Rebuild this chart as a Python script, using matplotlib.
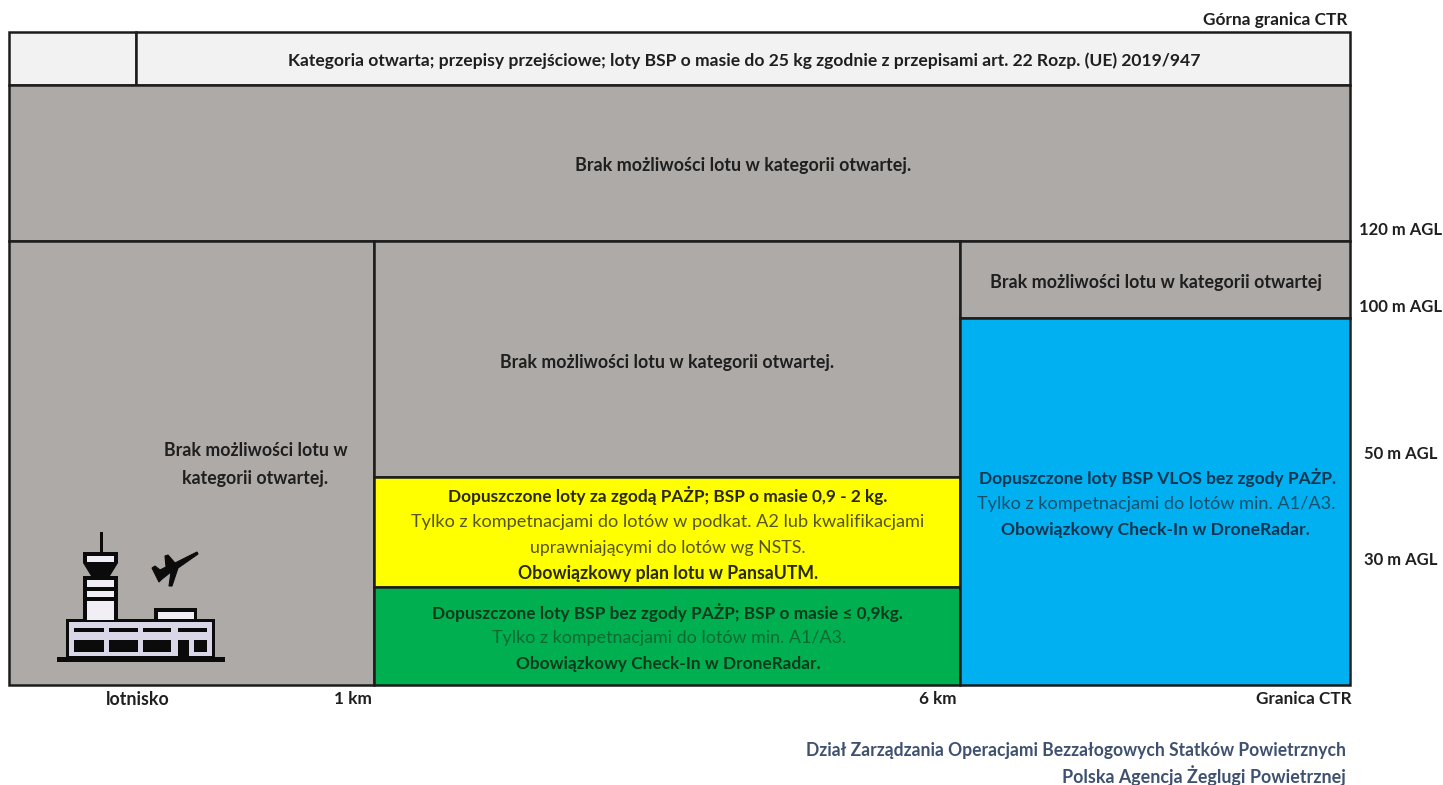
import matplotlib
matplotlib.use("Agg")
import matplotlib.pyplot as plt
from matplotlib.patches import Rectangle, Polygon

FONT = ["Lato", "Open Sans", "DejaVu Sans"]
plt.rcParams["font.family"] = FONT

# Zone boundaries (image scale)
zone_names = ["tower_band", "open_band", "upper", "left", "mid_upper", "yellow", "green", "right_top", "blue"]
zone_x0 = [9, 136, 9, 9, 374, 374, 374, 960, 960]
zone_x1 = [136, 1350, 1350, 374, 960, 960, 960, 1350, 1350]
zone_y0 = [32, 32, 85, 241, 241, 477, 587, 241, 318]
zone_y1 = [85, 85, 241, 685, 477, 587, 685, 318, 685]
zone_colors = ["#f2f2f2", "#f2f2f2", "#aeaaa7", "#aeaaa7", "#aeaaa7", "#ffff00", "#00b050", "#aeaaa7", "#00b0f0"]

grey_labels = ["Brak możliwości lotu w kategorii otwartej.",
               "Brak możliwości lotu w\nkategorii otwartej.",
               "Brak możliwości lotu w kategorii otwartej.",
               "Brak możliwości lotu w kategorii otwartej"]
top_label = "Kategoria otwarta; przepisy przejściowe; loty BSP o masie do 25 kg zgodnie z przepisami art. 22 Rozp. (UE) 2019/947"

height_labels = ["Górna granica CTR", "120 m AGL", "100 m AGL", "50 m AGL", "30 m AGL"]
distance_labels = ["lotnisko", "1 km", "6 km", "Granica CTR"]
credits = ["Dział Zarządzania Operacjami Bezzałogowych Statków Powietrznych",
           "Polska Agencja Żeglugi Powietrznej"]

fig = plt.figure(figsize=(14.43, 7.85), dpi=100, facecolor="white")
ax = fig.add_axes([0, 0, 1, 1])
ax.set_xlim(0, 1443)
ax.set_ylim(785, 0)
ax.axis("off")

EDGE = "#1c1c1c"
TXT = "#1f1f1f"

for x0, x1, y0, y1, c in zip(zone_x0, zone_x1, zone_y0, zone_y1, zone_colors):
    ax.add_patch(Rectangle((x0, y0), x1 - x0, y1 - y0, facecolor=c, edgecolor=EDGE, lw=1.8, zorder=2))

def label(x, y, s, fs, weight="bold", color=TXT, ha="center", **kw):
    ax.text(x, y, s, ha=ha, va="center", fontweight=weight, color=color, fontsize=fs, zorder=5, **kw)

label(744.5, 60.5, top_label, 12.6)
label(743, 166, grey_labels[0], 12.83)
label(255.5, 464.5, grey_labels[1], 12.8, linespacing=1.72)
label(667.5, 362.5, grey_labels[2], 12.8)
label(1156, 282.5, grey_labels[3], 12.88)

label(667.5, 495.5, "Dopuszczone loty za zgodą PAŻP; BSP o masie 0,9 - 2 kg.", 12.42, color="#2a2a00")
label(667.5, 521.5, "Tylko z kompetnacjami do lotów w podkat. A2 lub kwalifikacjami", 13.03, weight="normal", color="#55551a")
label(667.5, 547.5, "uprawniającymi do lotów wg NSTS.", 12.76, weight="normal", color="#55551a")
label(668, 573.5, "Obowiązkowy plan lotu w PansaUTM.", 12.68, color="#2a2a00")

label(667.5, 612.5, "Dopuszczone loty BSP bez zgody PAŻP; BSP o masie ≤ 0,9kg.", 12.43, color="#0a3a1c")
label(669, 637.5, "Tylko z kompetnacjami do lotów min. A1/A3.", 12.9, weight="normal", color="#0c6a30")
label(668, 663.5, "Obowiązkowy Check-In w DroneRadar.", 12.45, color="#0a3a1c")

label(1158, 477.5, "Dopuszczone loty BSP VLOS bez zgody PAŻP.", 12.55, color="#0d3550")
label(1156, 503.5, "Tylko z kompetnacjami do lotów min. A1/A3.", 13.1, weight="normal", color="#14506f")
label(1155, 529.5, "Obowiązkowy Check-In w DroneRadar.", 12.6, color="#0d3550")

# Height labels
label(1347, 20.5, height_labels[0], 12.4, ha="right")
for y, s in zip([230, 307, 454, 560], height_labels[1:]):
    label(1401, y, s, 12.0)

# Distance labels
for x, s, fs in zip([138, 353, 938, 1303.5], distance_labels, [12.8, 12.4, 12.3, 12.3]):
    label(x, 699.5, s, fs)

# Credits
label(1346, 750.5, credits[0], 12.65, ha="right", color="#3f5170")
label(1346, 775.5, credits[1], 12.85, ha="right", color="#3f5170")

# Airport icon
K = "#0b0b0b"
L = "#d9d6e8"
W = "#f1eef6"
def box(x0, y0, x1, y1, c=K, z=3):
    ax.add_patch(Rectangle((x0, y0), x1 - x0, y1 - y0, facecolor=c, edgecolor="none", zorder=z))

box(100, 532, 102.5, 553)                  # mast
ax.add_patch(Polygon([(83, 552), (118, 552), (118, 563), (110, 576), (91, 576), (83, 563)], facecolor=K, zorder=3))
box(87, 556, 114, 562, W, 4)
box(83, 576, 118, 622)                     # tower
box(87, 580, 114, 587, W, 4)
box(87, 591, 114, 597, W, 4)
box(87, 601, 114, 620, W, 4)
box(154, 608, 197, 622)                    # roof block
box(158, 612, 194, 619, W, 4)
box(66, 619, 215, 658)                     # terminal
box(69, 622, 212, 656, L, 4)
for a, b in [(74, 104), (109, 138), (143, 171), (178, 207)]:
    box(a, 628, b, 632, K, 5)
for a, b in [(74, 104), (109, 138), (143, 171), (194, 207)]:
    box(a, 640, b, 652, K, 5)
box(178, 640, 189, 658, K, 5)
box(57, 657, 225, 662, K, 5)               # ground line

plane = [(197, 552), (198, 554), (178, 568), (172, 586), (169, 586), (171, 572), (162, 579),
         (159, 582), (157, 578), (152, 568), (155, 566), (160, 570), (166, 567), (165, 556),
         (168, 555), (175, 563)]
ax.add_patch(Polygon(plane, facecolor=K, edgecolor=K, lw=0.8, zorder=4))

fig.savefig("out.png", dpi=100, facecolor="white")
